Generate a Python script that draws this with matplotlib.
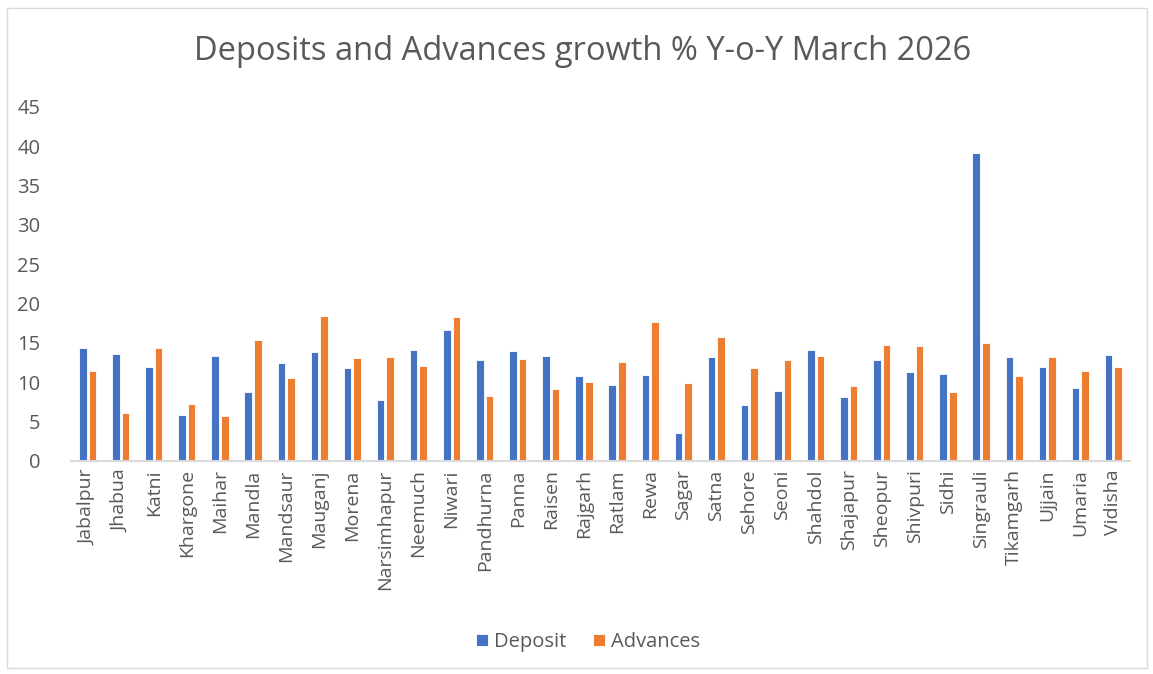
import matplotlib
matplotlib.use("Agg")
import matplotlib.pyplot as plt
import numpy as np
from matplotlib.patches import Rectangle

districts = ["Jabalpur", "Jhabua", "Katni", "Khargone", "Maihar", "Mandla", "Mandsaur",
             "Mauganj", "Morena", "Narsimhapur", "Neemuch", "Niwari", "Pandhurna", "Panna",
             "Raisen", "Rajgarh", "Ratlam", "Rewa", "Sagar", "Satna", "Sehore", "Seoni",
             "Shahdol", "Shajapur", "Sheopur", "Shivpuri", "Sidhi", "Singrauli", "Tikamgarh",
             "Ujjain", "Umaria", "Vidisha"]
deposit = [14.4, 13.6, 12.0, 5.85, 13.4, 8.8, 12.4, 13.9, 11.8, 7.8, 14.05, 16.7, 12.8, 14.0,
           13.4, 10.8, 9.7, 10.9, 3.6, 13.2, 7.1, 8.95, 14.05, 8.15, 12.9, 11.3, 11.1, 39.1,
           13.25, 11.9, 9.3, 13.5]
advances = [11.4, 6.1, 14.4, 7.25, 5.75, 15.4, 10.5, 18.4, 13.1, 13.2, 12.1, 18.3, 8.2, 13.0,
            9.2, 10.1, 12.6, 17.7, 9.9, 15.8, 11.8, 12.9, 13.3, 9.5, 14.7, 14.65, 8.8, 15.0,
            10.85, 13.2, 11.5, 12.0]
yticks = [0, 5, 10, 15, 20, 25, 30, 35, 40, 45]

plt.rcParams['font.family'] = ['Open Sans', 'DejaVu Sans']
W, H = 1153, 674
fig = plt.figure(figsize=(W / 100, H / 100), dpi=100)
fig.patch.set_facecolor("white")

# chart border
fig.add_artist(Rectangle((7 / W, 1 - 668 / H), (1147 - 7) / W, (668 - 8) / H,
                         transform=fig.transFigure, fill=False, edgecolor="#d9d9d9", lw=1))

ax = fig.add_axes([71 / W, 1 - 461 / H, (1130 - 71) / W, (461 - 107) / H])
x = np.arange(len(districts))
bw = 0.23
off = 0.145
blue = "#4472c4"
orange = "#ed7d31"
ax.bar(x - off, deposit, bw, color=blue, edgecolor="white", linewidth=0.6, label="Deposit")
ax.bar(x + off, advances, bw, color=orange, edgecolor="white", linewidth=0.6, label="Advances")

ax.set_xlim(-0.5, len(districts) - 0.5)
ax.set_ylim(0, 45)
ax.set_yticks(yticks)
ax.set_yticklabels([str(v) for v in yticks], fontsize=14.5, color="#595959")
ax.set_xticks(x)
ax.set_xticklabels(districts, rotation=90, fontsize=14, color="#595959")
ax.tick_params(axis="both", length=0)
ax.tick_params(axis="y", pad=22)
ax.tick_params(axis="x", pad=6)
for s in ["top", "right", "left"]:
    ax.spines[s].set_visible(False)
ax.spines["bottom"].set_color("#d9d9d9")
ax.spines["bottom"].set_linewidth(1.5)

fig.text(583 / W, 1 - 52 / H, "Deposits and Advances growth % Y-o-Y March 2026",
         ha="center", va="center", fontsize=23.5, color="#595959")

leg = fig.legend(loc="center", bbox_to_anchor=(588 / W, 1 - 642 / H), ncol=2, frameon=False,
                 fontsize=14.5, handlelength=0.6, handleheight=0.6, columnspacing=1.3,
                 handletextpad=0.3)
for t in leg.get_texts():
    t.set_color("#595959")

fig.savefig("out.png", dpi=100)
